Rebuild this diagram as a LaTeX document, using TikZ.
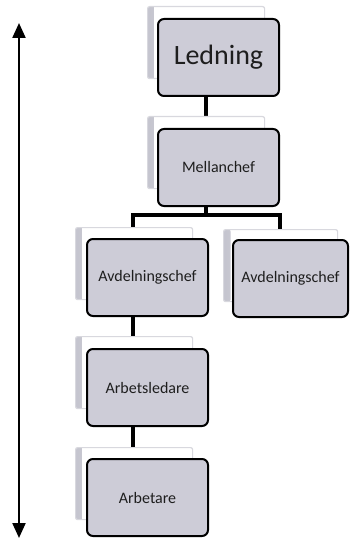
\documentclass[tikz,border=0pt]{standalone}
\usepackage{fontspec}
\setmainfont{Carlito}
\usetikzlibrary{arrows.meta}
\definecolor{boxfill}{HTML}{CDCCD7}
\definecolor{backedge}{HTML}{C4C4CE}
\definecolor{backline}{HTML}{D8D8DE}
\definecolor{txt}{HTML}{1E1E1E}
\tikzset{
  backbox/.style={anchor=north west, minimum width=117pt, minimum height=72pt,
    inner sep=0pt, draw=backline, line width=1.2pt, fill=white, rounded corners=2pt,
    path picture={\shade[left color=backedge, right color=white] (path picture bounding box.north west) rectangle ([xshift=7pt]path picture bounding box.south west);}},
  frontbox/.style={anchor=north west, minimum width=121pt, minimum height=77pt,
    inner sep=0pt, draw=black, line width=2pt, fill=boxfill, rounded corners=6pt,
    text=txt, font=\fontsize{16}{19}\selectfont},
  conn/.style={line width=4.2pt, black},
  bigarrow/.style={line width=2.2pt, {Triangle[width=13pt,length=15pt]}-{Triangle[width=13pt,length=15pt]}}
}
\begin{document}
\begin{tikzpicture}[x=1pt,y=-1pt]
\useasboundingbox (0,0) rectangle (349,540);
\path
  (147,6) coordinate (ledbpos)
  (147,116) coordinate (melbpos)
  (75,227) coordinate (avlbpos)
  (223,229) coordinate (avrbpos)
  (75,336) coordinate (arlbpos)
  (75,447) coordinate (arbbpos);
% connectors first (behind boxes)
\coordinate (ledc) at (206,93);
\coordinate (melin) at (206,122);
\coordinate (melc) at (206,203);
\coordinate (bar) at (206,215);
\coordinate (barl) at (133,215);
\coordinate (barr) at (280,215);
\coordinate (avlin) at (133,235);
\coordinate (avrin) at (280,235);
\coordinate (avlc) at (133,315);
\coordinate (arlin) at (133,342);
\coordinate (arlc) at (133,425);
\coordinate (arbin) at (133,453);
\draw[conn] (ledc) -- (melin);
\draw[conn] (melc) -- (bar);
\draw[conn, line cap=rect] (barl) -- (barr);
\draw[conn] (barl) -- (avlin);
\draw[conn] (barr) -- (avrin);
\draw[conn] (avlc) -- (arlin);
\draw[conn] (arlc) -- (arbin);
% boxes
\node[backbox] (ledb) at (ledbpos) {};
\node[frontbox, font=\fontsize{28}{32}\selectfont] (led) at (157,18) {Ledning};
\node[backbox] (melb) at (melbpos) {};
\node[frontbox] (mel) at (157,128) {Mellanchef};
\node[backbox] (avlb) at (avlbpos) {};
\node[frontbox] (avl) at (86,238) {Avdelningschef};
\node[backbox, minimum width=114pt] (avrb) at (avrbpos) {};
\node[frontbox, minimum width=115pt] (avr) at (232,239) {Avdelningschef};
\node[backbox] (arlb) at (arlbpos) {};
\node[frontbox] (arl) at (86,348) {Arbetsledare};
\node[backbox] (arbb) at (arbbpos) {};
\node[frontbox] (arb) at (86,458) {Arbetare};
% vertical arrow
\coordinate (atop) at (19,23);
\coordinate (abot) at (19,538);
\draw[bigarrow] (atop) -- (abot);
\end{tikzpicture}
\end{document}
